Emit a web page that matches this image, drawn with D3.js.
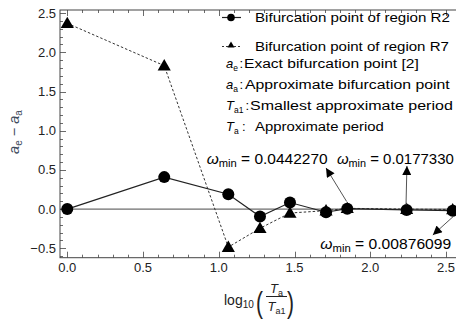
<!DOCTYPE html>
<html><head><meta charset="utf-8">
<script src="https://cdn.jsdelivr.net/npm/d3@7"></script>
<style>
body{margin:0;background:#fff;}
svg{display:block;font-family:"Liberation Sans",Arial,sans-serif;}
</style></head>
<body><svg id="c" width="456" height="320"></svg>
<script>
// ---- data ----
const xVals = [0, 0.64, 1.063, 1.272, 1.47, 1.708, 1.848, 2.24, 2.544];
const r2Vals = [0, 0.408, 0.19, -0.094, 0.084, -0.04, 0.005, -0.01, -0.02];
const r7Vals = [2.37, 1.83, -0.485, -0.245, -0.05, -0.02, 0.01, 0.0, -0.005];
const xTicks = [0, 0.5, 1.0, 1.5, 2.0, 2.5];
const yTicks = [-0.5, 0, 0.5, 1.0, 1.5, 2.0, 2.5];
const omegaLabels = ["0.0442270", "0.0177330", "0.00876099"];
// annotation anchors in data units: text start, arrow tail, arrow tip
const annTextPos = [[0.92, 0.572], [1.78, 0.572], [1.67, -0.51]];
const annArrowFrom = [[1.844, 0.097], [2.236, 0.055], [2.548, -0.094]];
const annArrowTo = [[1.708, 0.525], [2.242, 0.55], [2.413, -0.33]];
const legendRows = ["Bifurcation point of region R2", "Bifurcation point of region R7"];

const svg = d3.select("#c");
const L = 60, T = 10, B = 257.7;
const x = d3.scaleLinear().domain([-0.048, 2.62]).range([L, L + 2.668 * 151.5]);
const y = d3.scaleLinear().domain([-0.62, 2.54]).range([B, T]);
const R = x.range()[1];

// stretch a text horizontally so it spans a given width, anchored at its start
function fit(sel, px, py, w) {
  const nat = sel.node().getComputedTextLength();
  sel.attr("x", 0).attr("y", 0)
     .attr("transform", `translate(${px},${py}) scale(${w / nat},1)`);
}

const defs = svg.append("defs");
defs.append("marker").attr("id", "ah").attr("viewBox", "0 0 10 10")
  .attr("refX", 10).attr("refY", 5).attr("markerWidth", 11).attr("markerHeight", 9)
  .attr("markerUnits", "userSpaceOnUse").attr("orient", "auto")
  .append("path").attr("d", "M0,0 L10,5 L0,10 Z").attr("fill", "#000");

const frameCol = "#444";
svg.append("rect").attr("x", L).attr("y", T).attr("width", R - L).attr("height", B - T)
  .attr("fill", "none").attr("stroke", frameCol).attr("stroke-width", 1);

// ticks (inward), major + minor
const minorX = d3.range(0, 2.61, 0.1).map(v => +v.toFixed(2));
const minorY = d3.range(-0.6, 2.55, 0.1).map(v => +v.toFixed(2));
const isMajor = v => Math.abs(v * 2 - Math.round(v * 2)) < 1e-6;
const tg = svg.append("g").attr("stroke", frameCol).attr("stroke-width", 0.8);
minorX.forEach(v => {
  const len = isMajor(v) ? 6 : 3, px = Math.round(x(v)) + 0.5;
  tg.append("line").attr("x1", px).attr("x2", px).attr("y1", B).attr("y2", B - len);
  tg.append("line").attr("x1", px).attr("x2", px).attr("y1", T).attr("y2", T + len);
});
minorY.forEach(v => {
  if (y(v) > B || y(v) < T) return;
  const len = isMajor(v) ? 6 : 3, py = Math.round(y(v)) + 0.5;
  tg.append("line").attr("y1", py).attr("y2", py).attr("x1", L).attr("x2", L + len);
});

// tick labels
const fmt = v => (v < 0 ? "\u2212" : "") + Math.abs(v).toFixed(1);
svg.append("g").selectAll("text").data(xTicks).join("text")
  .attr("x", d => x(d)).attr("y", 272).attr("text-anchor", "middle")
  .attr("font-size", 13).attr("fill", "#222").text(fmt);
svg.append("g").selectAll("text").data(yTicks).join("text")
  .attr("x", 56).attr("y", d => y(d) + 4.5).attr("text-anchor", "end")
  .attr("font-size", 13).attr("fill", "#222").text(fmt);

// zero line
svg.append("line").attr("x1", L).attr("x2", R).attr("y1", y(0)).attr("y2", y(0))
  .attr("stroke", "#333").attr("stroke-width", 0.9);

const r2 = xVals.map((v, i) => [v, r2Vals[i]]);
const r7 = xVals.map((v, i) => [v, r7Vals[i]]);
const line = d3.line().x(d => x(d[0])).y(d => y(d[1]));

svg.append("path").attr("d", line(r7)).attr("fill", "none").attr("stroke", "#333")
  .attr("stroke-width", 1).attr("stroke-dasharray", "2.5,2");
svg.append("path").attr("d", line(r2)).attr("fill", "none").attr("stroke", "#222")
  .attr("stroke-width", 1.2);

const tri = d3.symbol().type(d3.symbolTriangle).size(75);
svg.append("g").selectAll("path").data(r7).join("path")
  .attr("d", tri).attr("transform", d => `translate(${x(d[0])},${y(d[1]) + 1})`).attr("fill", "#000");
svg.append("g").selectAll("circle").data(r2).join("circle")
  .attr("cx", d => x(d[0])).attr("cy", d => y(d[1])).attr("r", 6).attr("fill", "#000");

// annotations
const annW = [121, 117, 131];
omegaLabels.forEach((lab, i) => {
  svg.append("line")
    .attr("x1", x(annArrowFrom[i][0])).attr("y1", y(annArrowFrom[i][1]))
    .attr("x2", x(annArrowTo[i][0])).attr("y2", y(annArrowTo[i][1]))
    .attr("stroke", "#555").attr("stroke-width", 1).attr("marker-end", "url(#ah)");
  const t = svg.append("text").attr("font-size", 14.5).attr("fill", "#000");
  t.append("tspan").attr("font-style", "italic").text("\u03c9");
  t.append("tspan").attr("font-size", 10.5).attr("dy", 3).text("min");
  t.append("tspan").attr("dy", -3).text(" = " + lab);
  fit(t, x(annTextPos[i][0]), y(annTextPos[i][1]), annW[i]);
});

// legend
const lg = svg.append("g");
lg.append("line").attr("x1", 222).attr("x2", 241).attr("y1", 17.5).attr("y2", 17.5)
  .attr("stroke", "#222").attr("stroke-width", 1.2);
lg.append("circle").attr("cx", 231).attr("cy", 17.5).attr("r", 3.8).attr("fill", "#000");
lg.append("line").attr("x1", 222).attr("x2", 241).attr("y1", 46.5).attr("y2", 46.5)
  .attr("stroke", "#333").attr("stroke-width", 1).attr("stroke-dasharray", "2,2");
lg.append("path").attr("d", d3.symbol().type(d3.symbolTriangle).size(22))
  .attr("transform", "translate(231,45.5)").attr("fill", "#000");
legendRows.forEach((t, i) => {
  const tx = lg.append("text").attr("font-size", 13.5).attr("fill", "#000").text(t);
  fit(tx, 255, [22, 50.5][i], [195, 194][i]);
});
const defRows = [
  {s: "a", sub: "e", colon: 239.5, tx: 244, txt: "Exact bifurcation point [2]", yb: 67.7, w: 175},
  {s: "a", sub: "a", colon: 239.5, tx: 245, txt: "Approximate bifurcation point", yb: 89.3, w: 205},
  {s: "T", sub: "a1", colon: 245.5, tx: 250, txt: "Smallest approximate period", yb: 110, w: 203},
  {s: "T", sub: "a", colon: 242, tx: 255, txt: "Approximate period", yb: 131, w: 129}
];
defRows.forEach(r => {
  const t = lg.append("text").attr("x", 226).attr("y", r.yb).attr("font-size", 13).attr("fill", "#000");
  t.append("tspan").attr("font-style", "italic").text(r.s);
  t.append("tspan").attr("font-size", 8.5).attr("dy", 3).text(r.sub);
  t.append("tspan").attr("x", r.colon).attr("dy", -3).text(":");
  const m = lg.append("text").attr("font-size", 13.5).attr("fill", "#000").text(r.txt);
  fit(m, r.tx, r.yb, r.w);
});

// y label
const yl = svg.append("text").attr("transform", "translate(19,132) rotate(-90)")
  .attr("text-anchor", "middle").attr("font-size", 14.5).attr("fill", "#3d4a5c");
yl.append("tspan").attr("font-style", "italic").text("a");
yl.append("tspan").attr("font-size", 10).attr("dy", 3).text("e");
yl.append("tspan").attr("dy", -3).text(" \u2212 ");
yl.append("tspan").attr("font-style", "italic").text("a");
yl.append("tspan").attr("font-size", 10).attr("dy", 3).text("a");

// x label
const xl = svg.append("g").attr("fill", "#222");
const lt = xl.append("text").attr("x", 224).attr("y", 305).attr("font-size", 14);
lt.append("tspan").text("log");
lt.append("tspan").attr("font-size", 10).attr("dy", 3).text("10");
xl.append("text").attr("x", 256).attr("y", 313).attr("font-size", 30).attr("font-weight", 300)
  .attr("transform", "translate(256,313) scale(0.7,1) translate(-256,-313)").text("(");
xl.append("text").attr("x", 287).attr("y", 313).attr("font-size", 30).attr("font-weight", 300)
  .attr("transform", "translate(287,313) scale(0.7,1) translate(-287,-313)").text(")");
xl.append("line").attr("x1", 266).attr("x2", 287).attr("y1", 296.5).attr("y2", 296.5)
  .attr("stroke", "#222").attr("stroke-width", 1);
const nt = xl.append("text").attr("x", 276.5).attr("y", 293).attr("font-size", 13).attr("text-anchor", "middle");
nt.append("tspan").attr("font-style", "italic").text("T");
nt.append("tspan").attr("font-size", 9).attr("dy", 2.5).text("a");
const dt = xl.append("text").attr("x", 276.5).attr("y", 311).attr("font-size", 13).attr("text-anchor", "middle");
dt.append("tspan").attr("font-style", "italic").text("T");
dt.append("tspan").attr("font-size", 9).attr("dy", 2.5).text("a1");
</script></body></html>
